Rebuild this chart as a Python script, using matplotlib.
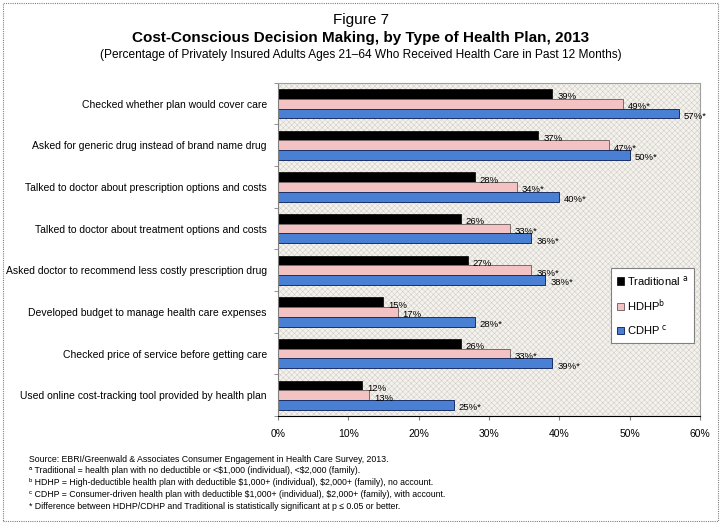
import matplotlib
matplotlib.use("Agg")
import matplotlib.pyplot as plt
from matplotlib.patches import Rectangle
import numpy as np

plt.rcParams['font.family'] = ['Liberation Sans', 'DejaVu Sans']
plt.rcParams['hatch.linewidth'] = 0.4

categories = [
    "Checked whether plan would cover care",
    "Asked for generic drug instead of brand name drug",
    "Talked to doctor about prescription options and costs",
    "Talked to doctor about treatment options and costs",
    "Asked doctor to recommend less costly prescription drug",
    "Developed budget to manage health care expenses",
    "Checked price of service before getting care",
    "Used online cost-tracking tool provided by health plan",
]
traditional = [39, 37, 28, 26, 27, 15, 26, 12]
hdhp = [49, 47, 34, 33, 36, 17, 33, 13]
cdhp = [57, 50, 40, 36, 38, 28, 39, 25]
hdhp_sig = [True, True, True, True, True, False, True, False]
cdhp_sig = [True] * 8
series_names = ["Traditional $^{\\rm a}$", "HDHP$^{\\rm b}$", "CDHP $^{\\rm c}$"]
xticks = [0, 10, 20, 30, 40, 50, 60]

fig = plt.figure(figsize=(7.22, 5.24), dpi=100)
fig.patches.append(Rectangle((0.004, 0.006), 0.991, 0.988, transform=fig.transFigure,
                             fill=False, edgecolor="#808080", lw=0.8, ls=(0, (1, 1))))

fig.text(0.5, 0.962, "Figure 7", ha="center", va="center", fontsize=11)
fig.text(0.5, 0.928, "Cost-Conscious Decision Making, by Type of Health Plan, 2013",
         ha="center", va="center", fontsize=11, fontweight="bold")
fig.text(0.5, 0.895, "(Percentage of Privately Insured Adults Ages 21\u201364 Who Received Health Care in Past 12 Months)",
         ha="center", va="center", fontsize=8.6)

ax = fig.add_axes([0.385, 0.206, 0.5845, 0.636])
ax.set_facecolor("#f4f2ee")
ax.add_patch(Rectangle((0, 0), 1, 1, transform=ax.transAxes, facecolor="none",
                       edgecolor="#d3cec5", hatch="xxxxxx", lw=0, zorder=0))

y = np.arange(len(categories))
h = 0.235
ax.barh(y - h, traditional, height=h, color="black", edgecolor="black", lw=0.5, label=series_names[0], zorder=2)
ax.barh(y, hdhp, height=h, color="#f3c3c3", edgecolor="#7a6a6a", lw=0.7, label=series_names[1], zorder=2)
ax.barh(y + h, cdhp, height=h, color="#4a80d4", edgecolor="#1a2f66", lw=0.7, label=series_names[2], zorder=2)

for i in range(len(categories)):
    ax.text(traditional[i] + 0.7, y[i] - h + 0.07, f"{traditional[i]}%", fontsize=6.8, va="center")
    ax.text(hdhp[i] + 0.7, y[i] + 0.07, f"{hdhp[i]}%" + ("*" if hdhp_sig[i] else ""), fontsize=6.8, va="center")
    ax.text(cdhp[i] + 0.7, y[i] + h + 0.07, f"{cdhp[i]}%" + ("*" if cdhp_sig[i] else ""), fontsize=6.8, va="center")

ax.set_ylim(len(categories) - 0.5, -0.5)
ax.set_xlim(0, 60)
ax.set_xticks(xticks)
ax.set_xticklabels([f"{t}%" for t in xticks], fontsize=7.5)
ax.set_yticks(y)
ax.set_yticklabels(categories, fontsize=7.5)
ax.tick_params(axis="y", length=0, pad=8)
ax.set_yticks(np.arange(len(categories) + 1) - 0.5, minor=True)
ax.tick_params(axis="y", which="minor", length=3, color="#808080")
ax.tick_params(axis="x", length=3, pad=6, color="#808080")
for s in ["top", "right"]:
    ax.spines[s].set_color("#a0a0a0")
ax.spines["left"].set_color("#808080")
ax.spines["bottom"].set_color("black")

leg = ax.legend(loc="upper left", bbox_to_anchor=(0.775, 0.462), fontsize=8, frameon=True,
                fancybox=False, edgecolor="#808080", handlelength=0.7, handleheight=0.7,
                handletextpad=0.2, labelspacing=0.85, borderpad=0.55, framealpha=1)
leg.get_frame().set_linewidth(0.8)

notes = [
    "Source: EBRI/Greenwald & Associates Consumer Engagement in Health Care Survey, 2013.",
    "\u1d43 Traditional = health plan with no deductible or <\\$1,000 (individual), <\\$2,000 (family).",
    "\u1d47 HDHP = High-deductible health plan with deductible \\$1,000+ (individual), \\$2,000+ (family), no account.",
    "\u1d9c CDHP = Consumer-driven health plan with deductible \\$1,000+ (individual), \\$2,000+ (family), with account.",
    "* Difference between HDHP/CDHP and Traditional is statistically significant at p \u2264 0.05 or better.",
]
for k, line in enumerate(notes):
    fig.text(0.04, 0.124 - k * 0.0225, line, fontsize=6.3, va="center")

fig.savefig("out.png", dpi=100)
